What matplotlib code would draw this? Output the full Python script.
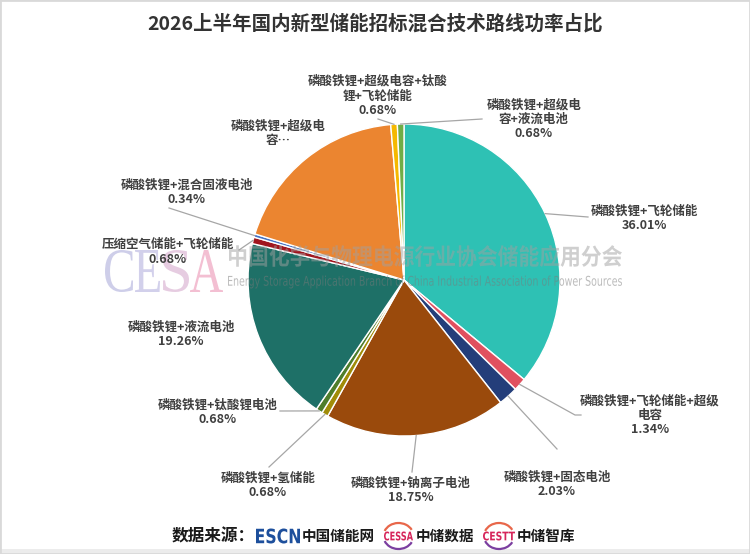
import numpy as np
import matplotlib
matplotlib.use("Agg")
import matplotlib.pyplot as plt
from matplotlib.textpath import TextPath
from matplotlib.patches import PathPatch, Arc, Rectangle
from matplotlib.font_manager import FontProperties
from matplotlib.transforms import Affine2D

plt.rcParams['font.family'] = ['Noto Sans CJK SC', 'DejaVu Sans']

W, H = 750, 554

# data
categories = [
    "磷酸铁锂+飞轮储能",
    "磷酸铁锂+飞轮储能+超级电容",
    "磷酸铁锂+固态电池",
    "磷酸铁锂+钠离子电池",
    "磷酸铁锂+氢储能",
    "磷酸铁锂+钛酸锂电池",
    "磷酸铁锂+液流电池",
    "压缩空气储能+飞轮储能",
    "磷酸铁锂+混合固液电池",
    "磷酸铁锂+超级电容",
    "磷酸铁锂+超级电容+钛酸锂+飞轮储能",
    "磷酸铁锂+超级电容+液流电池",
]
shares = [36.01, 1.34, 2.03, 18.75, 0.68, 0.68, 19.26, 0.68, 0.34, 18.87, 0.68, 0.68]
colors = ['#2ec1b4', '#e0505f', '#243e7a', '#9a4a0c', '#a08c08', '#4e7d2b',
          '#1e7067', '#a0151e', '#4472c4', '#eb8530', '#f5b800', '#70ad47']

# wrapped label text as shown on the chart
label_names = [
    "磷酸铁锂+飞轮储能",
    "磷酸铁锂+飞轮储能+超级\n电容",
    "磷酸铁锂+固态电池",
    "磷酸铁锂+钠离子电池",
    "磷酸铁锂+氢储能",
    "磷酸铁锂+钛酸锂电池",
    "磷酸铁锂+液流电池",
    "压缩空气储能+飞轮储能",
    "磷酸铁锂+混合固液电池",
    "磷酸铁锂+超级电\n容…",
    "磷酸铁锂+超级电容+钛酸\n锂+飞轮储能",
    "磷酸铁锂+超级电\n容+液流电池",
]
show_pct = [True] * 9 + [False] + [True, True]

# label centres and leader line points (pixels, y from top)
label_xy = [(644, 218), (650, 415), (557, 484), (411, 490), (268, 485), (218, 412),
            (181, 334), (168, 252), (187, 192), (278, 133), (378, 96), (534, 119)]
leader_pts = [[(588, 217)], [(575, 415), (581, 415)], [(557, 449)], [(412, 472)],
              [(269, 467)], [(280, 411)], None, [(239, 250)], [(169, 208)], None,
              [(378, 119)], [(482, 119)]]

cx, cy, R = 404, 280, 156


def Y(y):
    return H - y


def fitted_text(ax, s, x0, x1, y_mid, height, color, alpha=1.0, family='DejaVu Sans',
                weight='normal', zorder=3):
    fp = FontProperties(family=family, weight=weight)
    tp = TextPath((0, 0), s, size=100, prop=fp)
    bb = tp.get_extents()
    tr = (Affine2D().translate(-bb.x0, -bb.y0)
          .scale((x1 - x0) / bb.width, height / bb.height)
          .translate(x0, Y(y_mid) - height / 2))
    ax.add_patch(PathPatch(tr.transform_path(tp), fc=color, ec='none',
                           alpha=alpha, zorder=zorder))


fig = plt.figure(figsize=(7.5, 5.54), dpi=100)
ax = fig.add_axes([0, 0, 1, 1])

wedges, _ = ax.pie(shares, colors=colors, startangle=90, counterclock=False,
                   center=(cx, Y(cy)), radius=R,
                   wedgeprops=dict(edgecolor='white', linewidth=1))
for w in wedges:
    w.set_zorder(1)

ax.set_xlim(0, W)
ax.set_ylim(0, H)
ax.set_aspect('equal')
ax.axis('off')

# labels and leader lines
total = sum(shares)
cum = 0
for i, v in enumerate(shares):
    mid = 90 - (cum + v / 2) / total * 360
    cum += v
    txt = label_names[i]
    if show_pct[i]:
        txt += f"\n{v:.2f}%"
    lx, ly = label_xy[i]
    ax.text(lx, Y(ly), txt, ha='center', va='center', fontsize=9, fontweight='bold',
            color='#404040', linespacing=1.15, zorder=6)
    if leader_pts[i] is not None:
        sx = cx + R * np.cos(np.radians(mid))
        sy = cy - R * np.sin(np.radians(mid))
        pts = [(sx, sy)] + leader_pts[i]
        ax.plot([p[0] for p in pts], [Y(p[1]) for p in pts], color='#a6a6a6',
                lw=0.9, zorder=2)

# title
ax.text(W / 2, Y(24), "2026上半年国内新型储能招标混合技术路线功率占比", ha='center',
        va='center', fontsize=14, fontweight='bold', color='#333333')

# watermark
for letter, x0, x1, col in [("C", 105, 133, '#c6c6e6'), ("E", 135, 160, '#cbc8e8'),
                            ("S", 163, 189, '#e2c4dc'), ("A", 190, 223, '#f1b4cb')]:
    fitted_text(ax, letter, x0, x1, 271, 42, col, alpha=0.85,
                family='Liberation Serif', zorder=3)
fitted_text(ax, "中国化学与物理电源行业协会储能应用分会", 229, 622, 256, 22,
            '#a0a0a0', alpha=0.5, family='Noto Sans CJK SC', weight='bold', zorder=3)
fitted_text(ax, "Energy Storage Application Branch of China Industrial Association of Power Sources",
            228, 622, 282, 13, '#7a7a7a', alpha=0.5, family='DejaVu Sans', zorder=3)

# source line
src_y = 536
ax.text(172, Y(src_y), "数据来源：", ha='left', va='center', fontsize=12,
        fontweight='bold', color='#1a1a1a')
fitted_text(ax, "ESCN", 256, 300, src_y, 15, '#1d4f9c', family='DejaVu Sans',
            weight='bold', zorder=4)
ax.text(302, Y(src_y), "中国储能网", ha='left', va='center', fontsize=10.5,
        fontweight='bold', color='#1a1a1a')
for name, x0, x1, tx, tlabel in [("CESSA", 384, 413, 416, "中储数据"),
                                 ("CESTT", 483, 515, 517, "中储智库")]:
    fitted_text(ax, name, x0, x1, src_y, 9, '#d6245a', family='DejaVu Sans',
                weight='bold', zorder=4)
    mx = (x0 + x1) / 2
    ax.add_patch(Arc((mx, Y(src_y)), 30, 26, theta1=25, theta2=160,
                     color='#e8674a', lw=1.6, zorder=4))
    ax.add_patch(Arc((mx, Y(src_y)), 30, 26, theta1=200, theta2=335,
                     color='#7b3fa0', lw=1.6, zorder=4))
    ax.text(tx, Y(src_y), tlabel, ha='left', va='center', fontsize=10.5,
            fontweight='bold', color='#1a1a1a')

# frame
ax.add_patch(Rectangle((0, 0), W, 5, fc='#ececec', ec='none', zorder=0))
ax.add_patch(Rectangle((0, 0), W, H, fill=False, ec='#d9d9d9', lw=2, zorder=7))

fig.savefig("out.png", dpi=100)
